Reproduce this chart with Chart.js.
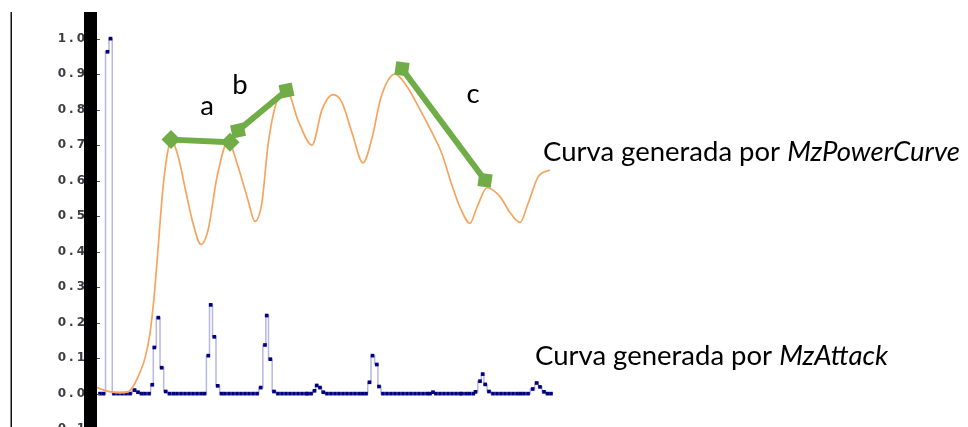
<!DOCTYPE html>
<html><head><meta charset="utf-8">
<script src="https://cdn.jsdelivr.net/npm/chart.js@4.4.1/dist/chart.umd.min.js"></script>
<style>html,body{margin:0;padding:0;background:#fff;overflow:hidden}canvas{display:block}</style>
</head><body>
<canvas id="c" width="968" height="427"></canvas>
<script>
// ---- data (x in sample units from the left edge of the plot, y = normalized amplitude) ----
const yTicks = [-0.1, 0.0, 0.1, 0.2, 0.3, 0.4, 0.5, 0.6, 0.7, 0.8, 0.9, 1.0];

// MzPowerCurve (orange)
const powerX = [0, 7, 15, 23, 31, 36, 43, 48, 53, 57, 60, 63, 66, 70, 74, 81, 88, 96, 104, 111, 120, 131, 141, 151, 158, 165, 171, 180, 190, 201, 215, 225, 236, 245, 255, 266, 275, 284, 298, 310, 323, 336, 345, 354, 363, 373, 380, 390, 403, 413, 423, 431, 441, 453];
const powerY = [0.017, 0.010, 0.004, 0.002, 0.005, 0.02, 0.06, 0.10, 0.17, 0.27, 0.37, 0.48, 0.58, 0.67, 0.715, 0.67, 0.58, 0.48, 0.42, 0.46, 0.61, 0.71, 0.64, 0.545, 0.485, 0.54, 0.70, 0.825, 0.852, 0.77, 0.70, 0.80, 0.842, 0.82, 0.735, 0.65, 0.72, 0.835, 0.90, 0.865, 0.80, 0.73, 0.675, 0.595, 0.525, 0.48, 0.525, 0.58, 0.555, 0.51, 0.482, 0.535, 0.61, 0.63];

// MzAttack (blue, stepped)
const attackX = [3, 6.5, 10.5, 13.5, 17, 21, 25, 29, 33, 37.5, 41, 44.5, 48, 52, 55.3, 57.3, 61.3, 64.7, 68.7, 72.5, 76.3, 80, 84, 88, 92, 96, 100, 104, 107.5, 111.3, 113.7, 117.3, 120.7, 124.5, 128, 132, 136, 140, 144, 148, 152, 156, 160, 163.7, 168, 169.7, 173.3, 177, 181, 185, 189, 193, 197, 201, 205, 209, 210.5, 214, 217.5, 219.7, 223, 226.3, 230, 234, 238, 242, 246, 250, 254, 258, 262, 265.5, 269, 272.5, 275.5, 279.8, 282, 286, 290, 294, 298, 302, 306, 310, 314, 318, 322, 326, 330, 333, 336, 339, 343, 347, 351, 355, 359, 363, 365, 369, 372.5, 376.3, 378.5, 383, 385.7, 388.2, 392, 396, 400, 404, 408, 412, 416, 420, 423.5, 427, 431, 435.7, 439.7, 443, 447, 450.5, 454];
const attackY = [0, 0, 0.963, 1.0, 0, 0, 0, 0, 0, 0.01, 0.004, 0, 0, 0, 0.025, 0.13, 0.214, 0.073, 0.006, 0, 0, 0, 0, 0, 0, 0, 0, 0, 0, 0.107, 0.25, 0.16, 0.022, 0, 0, 0, 0, 0, 0, 0, 0, 0, 0, 0.017, 0.137, 0.22, 0.097, 0.006, 0, 0, 0, 0, 0, 0, 0, 0, 0, 0, 0.008, 0.023, 0.017, 0.004, 0, 0, 0, 0, 0, 0, 0, 0, 0, 0, 0, 0.032, 0.107, 0.082, 0.02, 0, 0, 0, 0, 0, 0, 0, 0, 0, 0, 0, 0, 0, 0.004, 0, 0, 0, 0, 0, 0, 0, 0, 0, 0, 0, 0.005, 0.035, 0.055, 0.026, 0.006, 0, 0, 0, 0, 0, 0, 0, 0, 0, 0, 0.013, 0.03, 0.019, 0.005, 0, 0, 0];

// green comparison segments a, b, c
const segAX = [74, 133],   segAY = [0.7155, 0.708];
const segBX = [141, 189.5], segBY = [0.741, 0.854];
const segCX = [305, 388],  segCY = [0.915, 0.601];

// text annotations (data coordinates)
const notes = [
  {x: 110, y: 0.786, parts: [['a', false]], align: 'center'},
  {x: 143, y: 0.845, parts: [['b', false]], align: 'center'},
  {x: 376, y: 0.820, parts: [['c', false]], align: 'center'},
  {x: 446, y: 0.654, parts: [['Curva generada por ', false], ['MzPowerCurve', true]], align: 'left'},
  {x: 438, y: 0.082, parts: [['Curva generada por ', false], ['MzAttack', true]], align: 'left'}
];

const pts = (xs, ys) => xs.map((x, i) => ({x: x, y: ys[i]}));

const GREEN = '#70ad47';
const CAPTION_FONT = '"Lato", "Open Sans", sans-serif';
const CAPTION_SIZE = 27.5;

const decor = {
  id: 'decor',
  beforeDraw(chart) { chart.ctx.letterSpacing = '3px'; },
  beforeDatasetsDraw(chart) { chart.ctx.letterSpacing = '0px'; },
  afterDraw(chart) {
    const ctx = chart.ctx, ca = chart.chartArea, xs = chart.scales.x, ys = chart.scales.y;
    ctx.save();
    ctx.letterSpacing = '0px';
    ctx.fillStyle = '#111';
    ctx.fillRect(10.5, ca.top, 1.5, chart.height - ca.top);
    ctx.fillStyle = '#000';
    ctx.fillRect(84, ca.top, 13, chart.height - ca.top);
    ctx.strokeStyle = '#555';
    ctx.lineWidth = 1;
    ys.ticks.forEach(t => {
      const py = Math.round(ys.getPixelForValue(t.value)) + 0.5;
      ctx.beginPath(); ctx.moveTo(97, py); ctx.lineTo(100, py); ctx.stroke();
    });
    ctx.fillStyle = '#000';
    ctx.textBaseline = 'alphabetic';
    notes.forEach(n => {
      let px = xs.getPixelForValue(n.x);
      const py = ys.getPixelForValue(n.y);
      const widths = n.parts.map(p => { ctx.font = (p[1] ? 'italic ' : '') + CAPTION_SIZE + 'px ' + CAPTION_FONT; return ctx.measureText(p[0]).width; });
      const total = widths.reduce((a, b) => a + b, 0);
      if (n.align === 'center') px -= total / 2;
      ctx.textAlign = 'left';
      n.parts.forEach((p, i) => {
        ctx.font = (p[1] ? 'italic ' : '') + CAPTION_SIZE + 'px ' + CAPTION_FONT;
        ctx.fillText(p[0], px, py);
        px += widths[i];
      });
    });
    ctx.restore();
  }
};

new Chart(document.getElementById('c'), {
  type: 'line',
  data: {
    datasets: [
      {label: 'a', data: pts(segAX, segAY), borderColor: GREEN, backgroundColor: GREEN, borderWidth: 6,
       pointStyle: 'rectRot', pointRadius: 9.5, pointBorderWidth: 0, pointBackgroundColor: GREEN},
      {label: 'b', data: pts(segBX, segBY), borderColor: GREEN, backgroundColor: GREEN, borderWidth: 6,
       pointStyle: 'rect', pointRadius: 9.5, pointRotation: -12, pointBorderWidth: 0, pointBackgroundColor: GREEN},
      {label: 'c', data: pts(segCX, segCY), borderColor: GREEN, backgroundColor: GREEN, borderWidth: 6,
       pointStyle: 'rect', pointRadius: 9.5, pointRotation: 8, pointBorderWidth: 0, pointBackgroundColor: GREEN},
      {label: 'MzPowerCurve', data: pts(powerX, powerY), borderColor: '#f7a45e', borderWidth: 1.7,
       pointRadius: 0, cubicInterpolationMode: 'monotone', fill: false},
      {label: 'MzAttack', data: pts(attackX, attackY), borderColor: '#b7b7e6', borderWidth: 1.5, stepped: 'middle',
       pointStyle: 'rect', pointRadius: 2.6, pointBorderWidth: 0, pointBackgroundColor: '#000080', fill: false}
    ]
  },
  options: {
    responsive: false,
    devicePixelRatio: 1,
    animation: false,
    events: [],
    layout: {autoPadding: false, padding: {top: 12, left: 0, right: 0, bottom: 0}},
    plugins: {legend: {display: false}, tooltip: {enabled: false}},
    scales: {
      x: {type: 'linear', min: 0, max: 871, display: false},
      y: {
        type: 'linear', min: -0.094, max: 1.075,
        afterBuildTicks: s => { s.ticks = yTicks.map(v => ({value: v})); },
        afterFit: s => { s.width = 97; s.paddingTop = 0; s.paddingBottom = 0; },
        grid: {display: false, drawTicks: false, tickLength: 0},
        border: {display: false},
        ticks: {
          autoSkip: false, padding: 9, color: '#3c3c44',
          font: {family: '"DejaVu Sans", sans-serif', size: 12, weight: 'bold'},
          callback: v => Number(v).toFixed(1)
        }
      }
    }
  },
  plugins: [decor]
});
</script>
</body></html>
